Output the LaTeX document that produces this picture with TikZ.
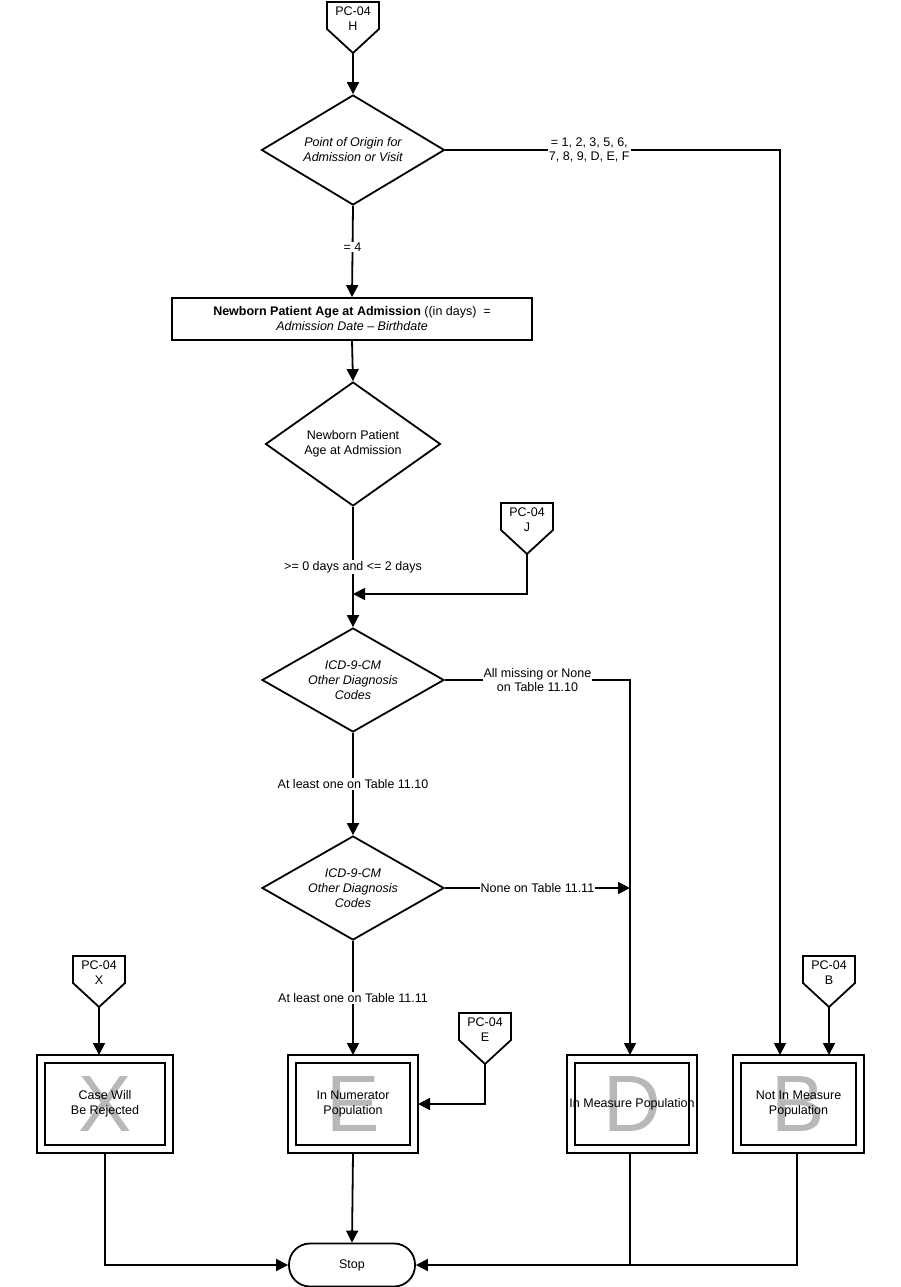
\documentclass[tikz,border=0pt]{standalone}
\usepackage{fontspec}
\setmainfont{Liberation Sans}
\usetikzlibrary{shapes.geometric,arrows.meta}
\begin{document}
\begin{tikzpicture}[x=1pt,y=-1pt,
  every node/.style={font=\fontsize{12.5}{15}\selectfont},
  line/.style={line width=1.8pt},
  arr/.style={line width=1.8pt,-{Triangle[length=12pt,width=12pt]}},
  lbl/.style={fill=white,inner sep=1pt,align=center},
  dia/.style={diamond,draw,line width=1.8pt,aspect=1.65,align=center,font=\fontsize{12.5}{15}\selectfont\itshape,inner sep=0pt},
  big/.style={font=\fontsize{80}{80}\selectfont,text=black!28}]
\useasboundingbox (0,0) rectangle (901,1287);
\newcommand{\offp}[3]{%
  \draw[line width=1.8pt] (#1-26,#2) -- (#1+26,#2) -- (#1+26,#2+27) -- (#1,#2+51) -- (#1-26,#2+27) -- cycle;
  \node[align=center] (#3) at (#1,#2+17) {PC-04\\#3};
  \coordinate (#3p) at (#1,#2+51);}
\newcommand{\termbox}[6]{%
  \draw[line width=1.8pt] (#1,1055) rectangle (#2,1153);
  \draw[line width=1.8pt] (#1+8,1063) rectangle (#2-8,1145);
  \node[big] at ({(#1+#2)/2},1104) {#4};
  \node[align=center] at ({(#1+#2)/2},1104) {#5};
  \coordinate (#3) at ({(#1+#2)/2},1104);
  \coordinate (#3t) at (#6,1055);
  \coordinate (#3b) at (#6,1153);}
\offp{353}{2}{H}
\offp{527}{503}{J}
\offp{99}{956}{X}
\offp{485}{1013}{E}
\offp{829}{956}{B}
\node[dia,minimum width=183pt,minimum height=110pt] (d1) at (353,150) {Point of Origin for\\Admission or Visit};
\node[draw,line width=1.8pt,minimum width=360pt,minimum height=42pt,align=center,inner sep=0pt] (r1) at (352,319)
  {\textbf{Newborn Patient Age at Admission} ((in days)~ =\\\textit{Admission Date -- Birthdate}};
\node[dia,minimum width=175pt,minimum height=124pt,font=\fontsize{12.5}{15}\selectfont] (d2) at (353,444) {Newborn Patient\\Age at Admission};
\node[dia,minimum width=182pt,minimum height=104pt] (d3) at (353,680) {ICD-9-CM\\Other Diagnosis\\Codes};
\node[dia,minimum width=182pt,minimum height=104pt] (d4) at (353,888) {ICD-9-CM\\Other Diagnosis\\Codes};
\termbox{37}{173}{bX}{X}{Case Will\\Be Rejected}{99}
\termbox{288}{418}{bE}{E}{In Numerator\\Population}{353}
\termbox{567}{697}{bD}{D}{In Measure Population}{630}
\termbox{733}{864}{bB}{B}{Not In Measure\\Population}{780}
\node[draw,line width=1.8pt,rounded corners=21pt,minimum width=126pt,minimum height=43pt] (stop) at (352,1265) {Stop};
\draw[arr] (Hp) -- (d1.north);
\draw[arr] (d1.south) -- node[lbl,pos=0.45]{= 4} (r1.north);
\draw[arr] (r1.south) -- (d2.north);
\coordinate (m1) at (353,594);
\draw[arr] (d2.south) -- node[lbl,pos=0.5]{>= 0 days and <= 2 days} (d3.north);
\draw[arr] (Jp) |- (m1);
\draw[arr] (d3.south) -- node[lbl,pos=0.5]{At least one on Table 11.10} (d4.north);
\draw[arr] (d4.south) -- node[lbl,pos=0.5]{At least one on Table 11.11} (bEt);
\draw[arr] (d1.east) -- node[lbl,pos=0.43,font=\fontsize{12.5}{14}\selectfont]{= 1, 2, 3, 5, 6,\\7, 8, 9, D, E, F} (780,150) -- (bBt);
\draw[arr] (d3.east) -- node[lbl,pos=0.5,font=\fontsize{12.5}{14}\selectfont]{All missing or None\\on Table 11.10} (630,680) -- (bDt);
\coordinate (j4) at (630,888);
\draw[arr] (d4.east) -- node[lbl,pos=0.5]{None on Table 11.11} (j4);
\draw[arr] (Xp) -- (bXt);
\draw[arr] (Bp) -- (829,1055);
\draw[arr] (Ep) |- (418,1104);
\draw[arr] (105,1153) |- (stop.west);
\draw[arr] (bEb) -- (stop.north);
\draw[line] (bDb) -- (630,1265);
\draw[arr] (797,1153) |- (stop.east);
\end{tikzpicture}
\end{document}
